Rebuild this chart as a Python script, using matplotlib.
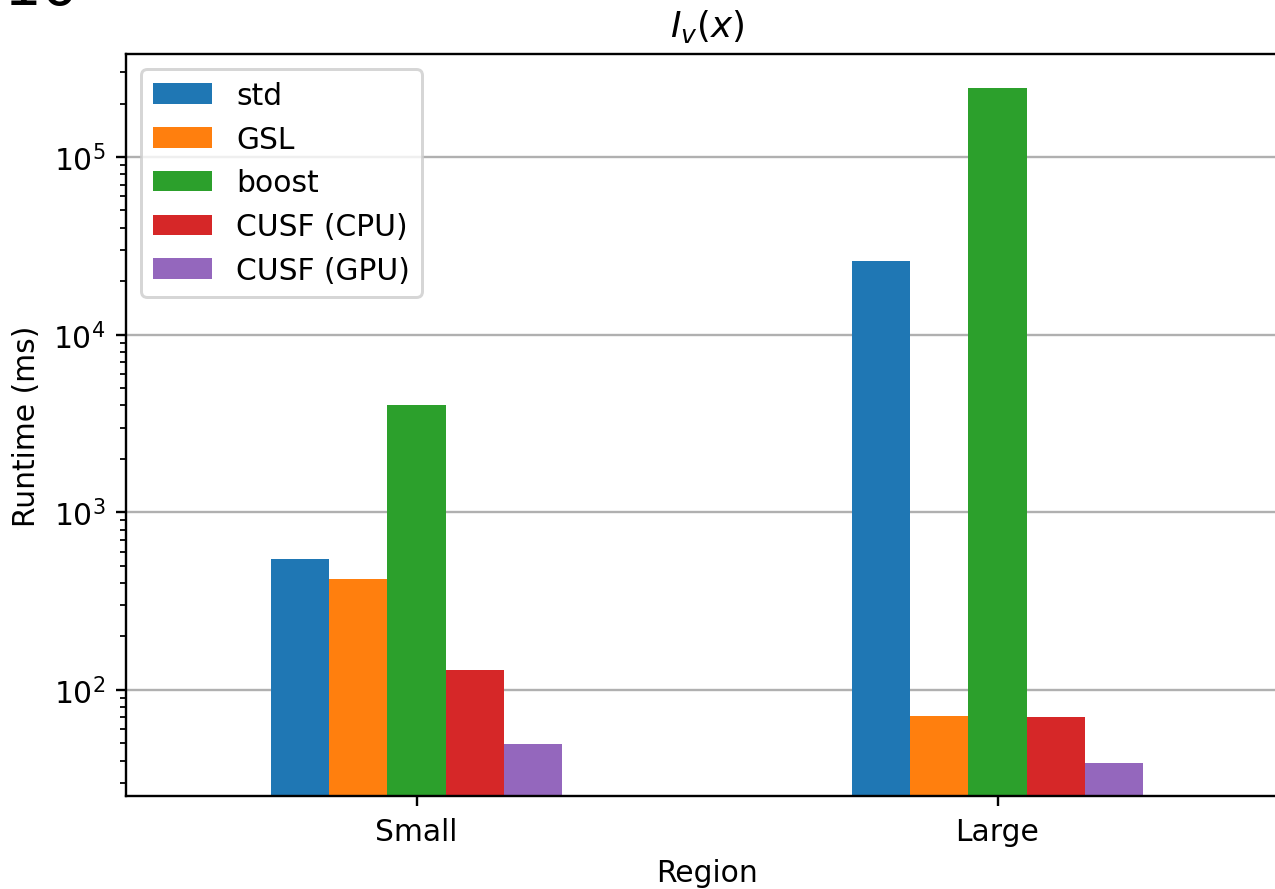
import numpy as np
import matplotlib
matplotlib.use("Agg")
import matplotlib.pyplot as plt

# Benchmark results for the modified Bessel function I_v(x)
regions = ["Small", "Large"]
libraries = ["std", "GSL", "boost", "CUSF (CPU)", "CUSF (GPU)"]
runtime_std = [546, 26000]
runtime_gsl = [422, 71.4]
runtime_boost = [4000, 244000]
runtime_cusf_cpu = [129.6, 70.5]
runtime_cusf_gpu = [49.6, 38.8]

series = [runtime_std, runtime_gsl, runtime_boost, runtime_cusf_cpu, runtime_cusf_gpu]
colors = ["#1f77b4", "#ff7f0e", "#2ca02c", "#d62728", "#9467bd"]

W, H, DPI = 1275, 890, 214
fig = plt.figure(figsize=(W / DPI, H / DPI), dpi=DPI)
ax = fig.add_axes([126 / W, 1 - 797 / H, (1288 - 126) / W, (797 - 55) / H])

x = np.arange(len(regions))
width = 0.1
n = len(series)
for i, (vals, lab, col) in enumerate(zip(series, libraries, colors)):
    ax.bar(x + (i - (n - 1) / 2) * width, vals, width, label=lab, color=col, zorder=2)

ax.set_yscale("log")
ax.set_xlim(-0.5, len(regions) - 0.5)
ax.set_ylim(25.3, 3.8e5)
ax.set_xticks(x)
ax.set_xticklabels(regions)
ax.set_xlabel("Region")
ax.set_ylabel("Runtime (ms)")
ax.set_title(r"$I_v(x)$")
ax.yaxis.grid(True, which="major", color="#b0b0b0", linewidth=0.8, zorder=0)
ax.set_axisbelow(True)
ax.legend(loc="upper left")

fig.text(3 / W, 1 - 5 / H, "10", fontsize=20, ha="left", va="baseline")

fig.savefig("out.png", dpi=DPI)
